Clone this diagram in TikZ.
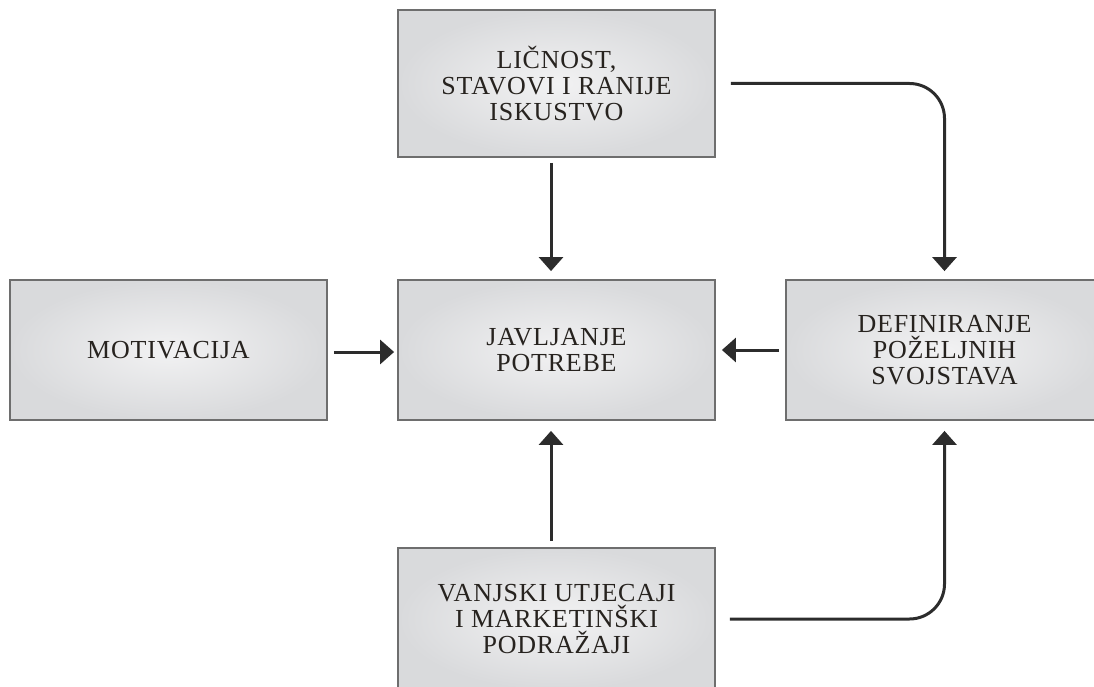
\documentclass[tikz,border=0pt]{standalone}
\usepackage{fontspec}
\setmainfont{Liberation Serif}[LetterSpace=3]
\usetikzlibrary{arrows.meta}
\definecolor{boxedge}{HTML}{6E6E6E}
\definecolor{boxin}{HTML}{F2F2F3}
\definecolor{boxout}{HTML}{D9DADC}
\definecolor{txt}{HTML}{27231F}
\definecolor{arr}{HTML}{2C2C2C}
\begin{document}
\begin{tikzpicture}[x=1pt,y=-1pt,
  box/.style={draw=boxedge, line width=1.8pt, inner color=boxin, outer color=boxout,
    minimum width=317pt, minimum height=140pt, align=center, text=txt,
    font=\fontsize{26}{26}\selectfont, inner sep=0pt},
  conn/.style={draw=arr, line width=3pt, -{Triangle[width=24pt,length=14pt]}}]
\useasboundingbox (0,0) rectangle (1094,687);
\clip (0,0) rectangle (1094,687);
\node[box, minimum height=147pt] (top) at (556.5,83.5) {LIČNOST,\\STAVOVI I RANIJE\\ISKUSTVO};
\node[box] (mot) at (168.5,350) {MOTIVACIJA};
\node[box] (jav) at (556.5,350) {JAVLJANJE\\POTREBE};
\node[box] (def) at (944.5,350) {DEFINIRANJE\\POŽELJNIH\\SVOJSTAVA};
\node[box, minimum height=142pt] (bot) at (556.5,619) {VANJSKI UTJECAJI\\I MARKETINŠKI\\PODRAŽAJI};
\draw[conn] ([xshift=-5.5pt,yshift=-5pt]top.south) -- ([xshift=-5.5pt,yshift=8pt]jav.north);
\draw[conn] ([xshift=6pt,yshift=-2pt]mot.east) -- ([xshift=-3pt,yshift=-2pt]jav.west);
\draw[conn] ([xshift=-6pt]def.west) -- ([xshift=6pt]jav.east);
\draw[conn] ([xshift=-5.5pt,yshift=6pt]bot.north) -- ([xshift=-5.5pt,yshift=-10pt]jav.south);
\draw[conn, rounded corners=35pt] ([xshift=15pt]top.east) -| ([yshift=8pt]def.north);
\draw[conn, rounded corners=35pt] ([xshift=14pt]bot.east) -| ([yshift=-10pt]def.south);
\end{tikzpicture}
\end{document}
